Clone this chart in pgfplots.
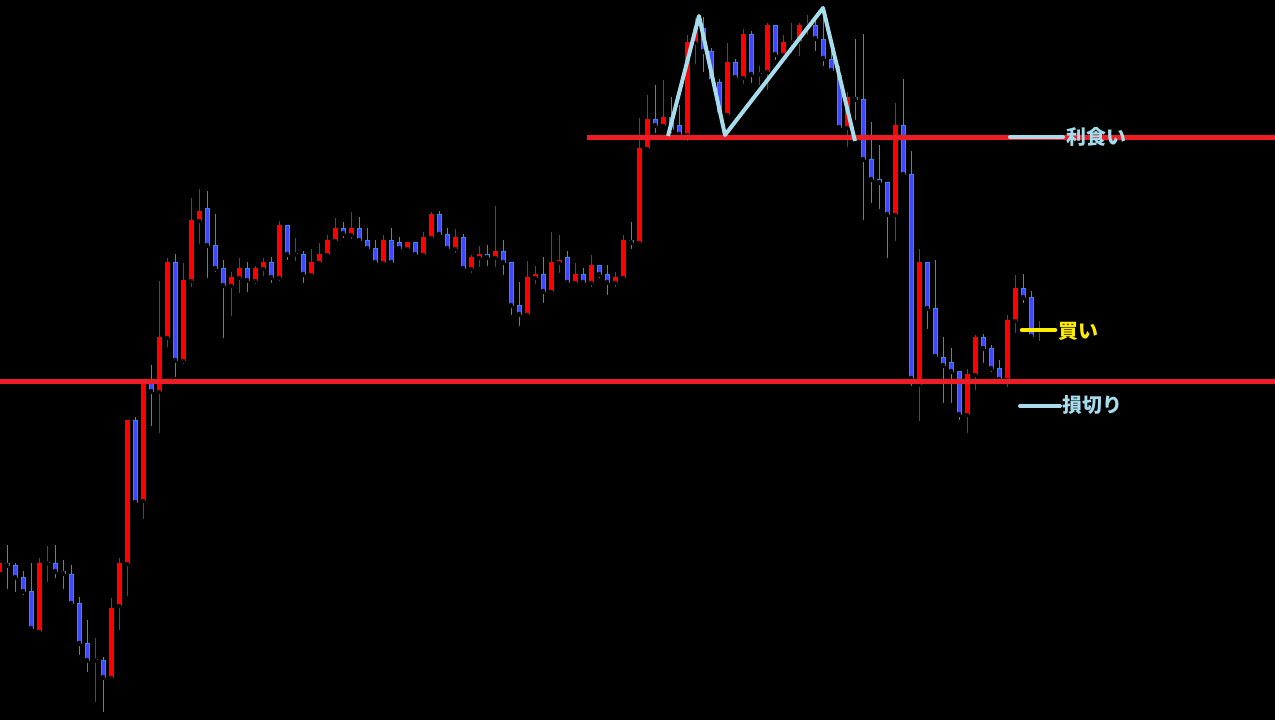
\documentclass[border=0pt]{standalone}
\usepackage{pgfplots}
\pgfplotsset{compat=1.18}
\usepackage{pgfplotstable}
\usepackage{fontspec}
\newfontfamily\jp{Noto Sans CJK JP}
\definecolor{candRed}{HTML}{FF0000}
\definecolor{blueFill}{HTML}{3F48FF}
\definecolor{blueEdge}{HTML}{1E90FF}
\definecolor{lineRed}{HTML}{EE1C25}
\definecolor{lb}{HTML}{A6DCEC}
\definecolor{yel}{HTML}{FFED00}

% k o h l c  (bullish candles)
\pgfplotstableread{
k o h l c
-1 148 160 145 157
4 88 162 88 157
5 156.5 174 136 157.5
11 59.5 82 16 60.5
13 42 122 39 112
14 114 162 88 157
15 156 300 122 300
17 219 340 199 338
19 328 439 285 383
20 382 462 371 458
22 359 457 354 440
23 439 522 431 500
24 499 531 474 509
28 434 448 402 443
29 442 462 425 452
31 439 454 434 452
32 451 462 442 458
34 442 499 437 495
36 465.5 482 457 466.5
38 445 471 442 458
39 457 477 457 466
40 465 485 462 480
41 479 502 477 492
43 485 508 479 492
47 457 485 454 480
50 471 478 468 478
52 465 488 465 483
53 482 508 482 506
56 471 491 465 483
58 451 465 445 463
59 462 474 451 466
61 462 514 451 469
65 405 459 405 443
66 442 454 434 446
68 428 488 428 458
69 457 485 445 460
71 437 457 434 446
73 437 465 431 455
76 437 448 431 443
77 442 485 439 480
79 477 602 474 572
80 571 625 571 601
82 594 640 594 603
85 585 685 577 678
86 677 702 654 692
90 605 677 605 658
92 642 691 634 686
94 645.5 654 633 646.5
95 648 697 628 695
97 665 685 665 678
98 677.5 697 665 678.5
99 678 697 662 695
100 694.5 705 683 695.5
105 592 628 571 623
111 505 617 477 595
114 335 471 297 458
120 305 351 285 346
121 345 385 328 383
125 340 405 331 400
126 399 445 385 432
129 389.5 399 377 390.5
}\upT

% bearish candles
\pgfplotstableread{
k o h l c
0 157 175 129 154
1 155 157 126 142
2 143 149 123 128
3 129 157 89 91
6 157 175 140 148
7 149 160 129 146
8 146 155 115 116
9 117 123 63 76
10 77 100 46 59
12 60 63 6 42
16 300 303 215 217
18 338 355 292 328
21 458 466 341 359
25 512 529 440 474
26 475 506 446 451
27 452 460 380 434
30 452 458 426 439
33 458 463 435 442
35 495 495 458 465
37 466 469 435 445
42 492 498 480 486
44 492 503 478 479
45 480 492 469 471
46 472 480 457 457
48 480 492 457 457
49 478 483 469 471
51 478 478 463 465
54 506 509 485 485
55 486 492 469 471
57 483 486 451 451
60 466 475 452 462
62 469 480 443 457
63 458 458 403 414
64 415 438 392 405
67 446 463 415 428
70 463 469 435 437
72 446 452 435 437
74 455 455 440 445
75 446 455 423 437
78 480 498 469 477
81 601 635 585 594
83 603 623 585 590
84 595 615 585 585
87 692 703 646 668
88 669 672 638 638
89 638 641 605 605
91 658 661 641 642
93 686 689 635 645
96 695 695 658 665
101 695 705 667 681
102 681 710 652 661
103 661 669 646 649
104 645 654 590 592
106 623 681 598 620
107 621 686 498 560
108 561 598 515 540
109 541 575 509 537
110 538 538 460 505
112 595 641 545 545
113 546 569 332 341
115 458 458 389 411
116 412 460 363 363
117 363 383 315 354
118 358 372 315 348
119 349 349 298 305
122 383 386 355 371
123 372 375 346 351
124 352 360 338 340
127 432 446 415 422
128 423 429 380 383
}\downT

\begin{document}
\begin{tikzpicture}
\begin{axis}[
  set layers,
  scale only axis, width=1275bp, height=720bp,
  xmin=-0.875, xmax=158.5, ymin=0, ymax=720,
  axis line style={draw=none}, ticks=none,
  axis background/.style={fill=black},
]
% wicks
\addplot[only marks, mark=none, forget plot,
  error bars/.cd, y dir=plus, y explicit, error mark=none,
  error bar style={line width=1bp, draw=candRed}]
  table[x=k, y=l, y error expr={\thisrow{h}-\thisrow{l}}] {\upT};
\addplot[only marks, mark=none, forget plot,
  error bars/.cd, y dir=plus, y explicit, error mark=none,
  error bar style={line width=1bp, draw=blueEdge}]
  table[x=k, y=l, y error expr={\thisrow{h}-\thisrow{l}}] {\downT};
% bodies
\addplot[only marks, mark=none, forget plot,
  error bars/.cd, y dir=plus, y explicit, error mark=none,
  error bar style={line width=5bp, draw=candRed}]
  table[x=k, y expr={min(\thisrow{o},\thisrow{c})}, y error expr={max(abs(\thisrow{c}-\thisrow{o}),1)}] {\upT};
\addplot[only marks, mark=none, forget plot,
  error bars/.cd, y dir=plus, y explicit, error mark=none,
  error bar style={line width=5bp, draw=blueEdge}]
  table[x=k, y expr={min(\thisrow{o},\thisrow{c})}, y error expr={max(abs(\thisrow{c}-\thisrow{o}),1)}] {\downT};
\addplot[only marks, mark=none, forget plot,
  error bars/.cd, y dir=plus, y explicit, error mark=none,
  error bar style={line width=3bp, draw=blueFill}]
  table[x=k, y expr={min(\thisrow{o},\thisrow{c})+1}, y error expr={max(abs(\thisrow{c}-\thisrow{o})-2,0.01)}] {\downT};
% support / resistance lines
\addplot[on layer=axis foreground, lineRed, line width=4.5bp, forget plot] coordinates {(-0.875,338.5) (158.5,338.5)};
\addplot[on layer=axis foreground, lineRed, line width=4.5bp, forget plot] coordinates {(72.5,582.7) (158.5,582.7)};
% double-top zigzag
\addplot[on layer=axis foreground, lb, line width=4bp, line join=round, forget plot] coordinates {(82.625,584) (86.5,704) (89.75,585) (102,712) (106,579)};
% label markers
\addplot[on layer=axis foreground, lb, line width=4bp, line cap=round, forget plot] coordinates {(125.375,582.7) (132.0,582.7)};
\addplot[on layer=axis foreground, yel, line width=4.5bp, line cap=round, forget plot] coordinates {(126.875,390) (131.0,390)};
\addplot[on layer=axis foreground, lb, line width=4bp, line cap=round, forget plot] coordinates {(126.625,314) (131.625,314)};
\begin{pgfonlayer}{axis foreground}
\node[anchor=west, inner sep=0pt, text=lb, font=\jp\bfseries\fontsize{20}{24}\selectfont] at (axis cs:132.375,583) {利食い};
\node[anchor=west, inner sep=0pt, text=yel, font=\jp\bfseries\fontsize{20}{24}\selectfont] at (axis cs:131.375,389) {買い};
\node[anchor=west, inner sep=0pt, text=lb, font=\jp\bfseries\fontsize{20}{24}\selectfont] at (axis cs:131.875,315) {損切り};
\end{pgfonlayer}
\end{axis}
\end{tikzpicture}
\end{document}
